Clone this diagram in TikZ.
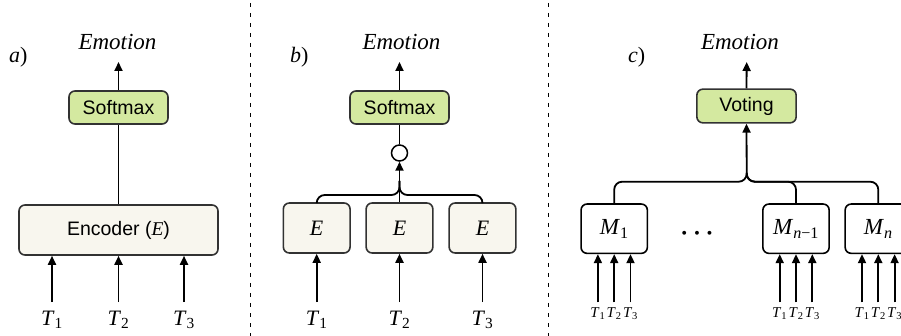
\documentclass[tikz,border=0pt]{standalone}
\usepackage{fontspec}
\setmainfont{Liberation Serif}
\setsansfont{Liberation Sans}
\usetikzlibrary{arrows.meta}
\definecolor{boxgreen}{RGB}{212,233,160}
\definecolor{boxbeige}{RGB}{248,246,238}
\definecolor{boxedge}{RGB}{50,50,50}
\newcommand\Tlab[1]{\textit{T}\textsubscript{#1}}
\newcommand\bolddots{{\mathversion{bold}$\cdots$}}
\begin{document}
\begin{tikzpicture}[x=1pt,y=-1pt,
  box/.style={draw=boxedge,line width=1.6pt,rounded corners=6pt,inner sep=0pt,font=\sffamily\fontsize{19.5}{22}\selectfont},
  greenbox/.style={box,fill=boxgreen,minimum width=99pt,minimum height=33pt},
  encbox/.style={box,fill=boxbeige},
  mbox/.style={box,draw=black,fill=white,minimum width=66.3pt,minimum height=49.3pt,font=\fontsize{23}{26}\selectfont},
  arr/.style={line width=1.8pt,-{Triangle[length=9pt,width=8pt]}},
  conn/.style={line width=1.8pt},
  emo/.style={anchor=base,inner sep=0pt,font=\itshape\fontsize{23}{26}\selectfont},
  panel/.style={anchor=base west,inner sep=0pt,font=\fontsize{22}{26}\selectfont},
  tbig/.style={anchor=base,inner sep=0pt,text height=15pt,text depth=5pt,outer ysep=8pt,font=\fontsize{22}{26}\selectfont},
  tsmall/.style={anchor=base,inner sep=0pt,text height=10pt,text depth=3pt,outer ysep=5pt,font=\fontsize{15}{18}\selectfont},
  sep/.style={line width=1.4pt,dash pattern=on 4pt off 6pt}
]
\useasboundingbox (0,0) rectangle (901,336);

% separators
\draw[sep] (250.5,3) -- (250.5,336);
\draw[sep] (548.5,3) -- (548.5,336);

% ---------- panel a ----------
\node[panel] (la) at (9,63) {\textit{a})};
\node[emo] (emoA) at (117.5,50) {Emotion};
\coordinate (tipA) at (118.5,62);
\node[greenbox] (softA) at (118.5,107.5) {Softmax};
\node[encbox,minimum width=199pt,minimum height=50pt] (encA) at (118.5,230) {Encoder ({\rmfamily\itshape E})};
\draw[arr] (softA.north) -- (tipA);
\draw[conn] (encA.north) -- (softA.south);
\foreach \i/\x in {1/52,2/118.5,3/184}{
  \node[tbig] (tA\i) at (\x,325) {\Tlab{\i}};
  \draw[arr] (tA\i.north) -- (tA\i.north |- encA.south);
}

% ---------- panel b ----------
\node[panel] (lb) at (290,63) {\textit{b})};
\node[emo] (emoB) at (401.5,50) {Emotion};
\coordinate (tipB) at (399.5,62);
\node[greenbox] (softB) at (399.5,107.5) {Softmax};
\node[circle,draw=black,line width=1.5pt,minimum size=16pt,inner sep=0pt] (cB) at (399.5,153) {};
\draw[arr] (softB.north) -- (tipB);
\draw[conn] (softB.south) -- (cB.north);
\foreach \i/\x in {1/316.7,2/399.5,3/482.5}{
  \node[encbox,minimum width=66.7pt,minimum height=50pt,font=\itshape\fontsize{22}{26}\selectfont] (eB\i) at (\x,228) {E};
  \node[tbig] (tB\i) at (\x,325) {\Tlab{\i}};
  \draw[arr] (tB\i.north) -- (eB\i.south);
}
\coordinate (jB) at (399.5,195);
\draw[conn,rounded corners=8pt] (eB1.north) |- (jB) -- ++(0,-14);
\draw[conn,rounded corners=8pt] (eB3.north) |- (jB) -- ++(0,-14);
\draw[arr] (eB2.north) -- (cB.south);

% ---------- panel c ----------
\node[panel] (lc) at (628,63) {\textit{c})};
\node[emo] (emoC) at (740,50) {Emotion};
\coordinate (tipC) at (746.7,62);
\node[greenbox,minimum width=99.3pt,minimum height=33.7pt] (vote) at (746.5,106) {Voting};
\draw[arr] (vote.north) -- (tipC);
\node[mbox] (m1) at (614.2,228.7) {\textit{M}\textsubscript{1}};
\node[mbox] (m2) at (796,228.7) {\textit{M}\textsubscript{\textit{n}−1}};
\node[mbox] (m3) at (878.3,228.7) {\textit{M}\textsubscript{\textit{n}}};
\node[inner sep=0pt,font=\fontsize{24}{26}\selectfont] (dots) at (697,234) {\bolddots};
\coordinate (jC) at (746.7,181.7);
\coordinate (jCtop) at (746.7,173);
\foreach \m in {m1,m2,m3}{
  \draw[conn,rounded corners=8pt] (\m.north) |- (jC) -- (jCtop);
  \foreach \k/\dx in {1/-16.3,2/0,3/16.3}{
    \node[tsmall] (t\m\k) at ([xshift=\dx pt]\m.center |- 0,317.3) {\Tlab{\k}};
    \draw[arr] (t\m\k.north) -- (t\m\k.north |- \m.south);
  }
}
\draw[arr] (jCtop) -- (vote.south);
\end{tikzpicture}
\end{document}
